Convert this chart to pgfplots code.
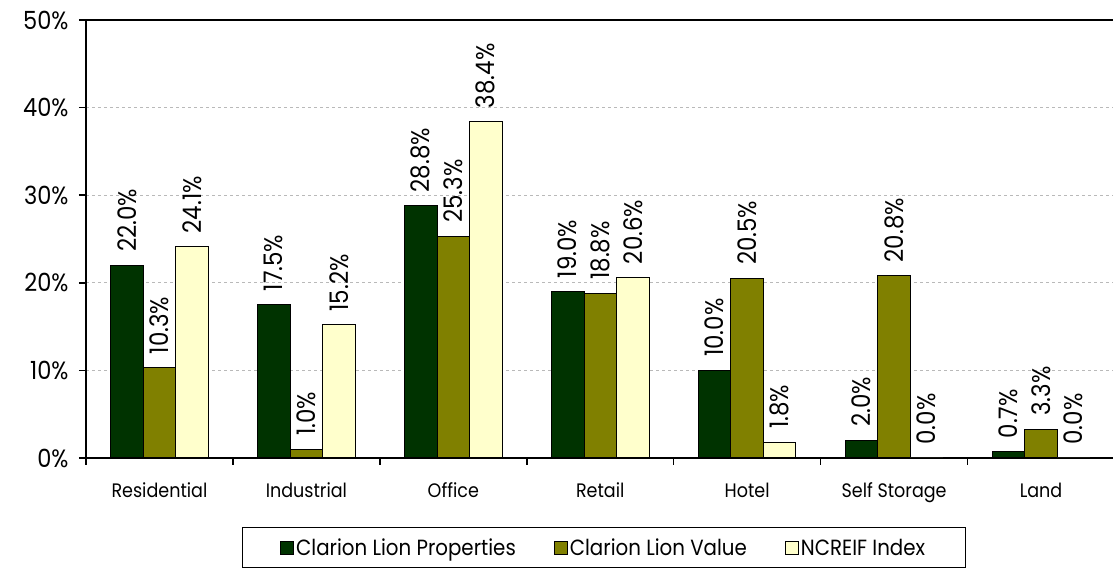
\documentclass[border=0pt]{standalone}
\usepackage{pgfplots}
\pgfplotsset{compat=1.18}
\usepackage{fontspec}
\setmainfont[FakeStretch=0.9]{Poppins}

\definecolor{cdark}{HTML}{003300}
\definecolor{colive}{HTML}{808000}
\definecolor{clight}{HTML}{FFFFCC}

% sector weights, %
\pgfplotstableread{
x props value ncreif
0 22.0 10.3 24.1
1 17.5 1.0  15.2
2 28.8 25.3 38.4
3 19.0 18.8 20.6
4 10.0 20.5 1.8
5 2.0  20.8 0.0
6 0.7  3.3  0.0
}\sectors

\begin{document}
\begin{tikzpicture}
\begin{axis}[
    at={(0pt,0pt)}, anchor=south west,
    scale only axis, width=1027pt, height=438pt,
    xmin=-0.5, xmax=6.49, ymin=0, ymax=50,
    ybar=0pt, bar width=32.5pt,
    axis x line*=bottom, axis y line*=left,
    axis line style={line width=2pt, -},
    tick align=outside,
    xtick={0,...,6},
    xticklabels={Residential,Industrial,Office,Retail,Hotel,Self Storage,Land},
    major x tick style={draw=none},
    minor xtick={-0.5,0.5,...,6.5},
    minor tick length=7pt,
    minor x tick style={line width=1.5pt, black},
    xticklabel style={font=\fontsize{19.5}{19.5}\selectfont, anchor=base, yshift=-33pt},
    ytick={0,10,...,50},
    major tick length=7pt,
    y tick style={line width=1.5pt, black},
    yticklabel={\pgfmathprintnumber{\tick}\%},
    yticklabel style={font=\fontsize{25}{25}\selectfont, anchor=east, xshift=-7pt},
    /pgf/number format/assume math mode=true,
    ymajorgrids,
    grid style={dashed, gray!55, line width=1pt},
    nodes near coords={\pgfmathprintnumber[fixed,fixed zerofill,precision=1]{\pgfplotspointmeta}\%},
    every node near coord/.append style={rotate=90, anchor=west,
        font=\fontsize{25.5}{25.5}\selectfont, inner xsep=13pt, inner ysep=0pt, black},
    legend columns=3,
    legend style={at={(0.504,-0.158)}, anchor=north, draw=black, line width=1pt,
        font=\fontsize{22}{22}\selectfont, inner xsep=38pt, inner ysep=9pt,
        /tikz/every even column/.append style={column sep=36pt}},
    legend image code/.code={\draw[#1, draw=black, line width=1pt] (0pt,-6.5pt) rectangle (13pt,6.5pt);},
]
\addplot[fill=cdark, draw=black, line width=1pt] table[x=x, y=props] {\sectors};
\addlegendentry{Clarion Lion Properties}
\addplot[fill=colive, draw=black, line width=1pt] table[x=x, y=value] {\sectors};
\addlegendentry{Clarion Lion Value}
\addplot[fill=clight, draw=black, line width=1pt] table[x=x, y=ncreif] {\sectors};
\addlegendentry{NCREIF Index}
\draw[line width=1.5pt] (rel axis cs:0,1) -- (rel axis cs:1,1);
\end{axis}
\pgfresetboundingbox
\path (-86pt,-111pt) rectangle (1027pt,458pt);
\end{tikzpicture}
\end{document}
